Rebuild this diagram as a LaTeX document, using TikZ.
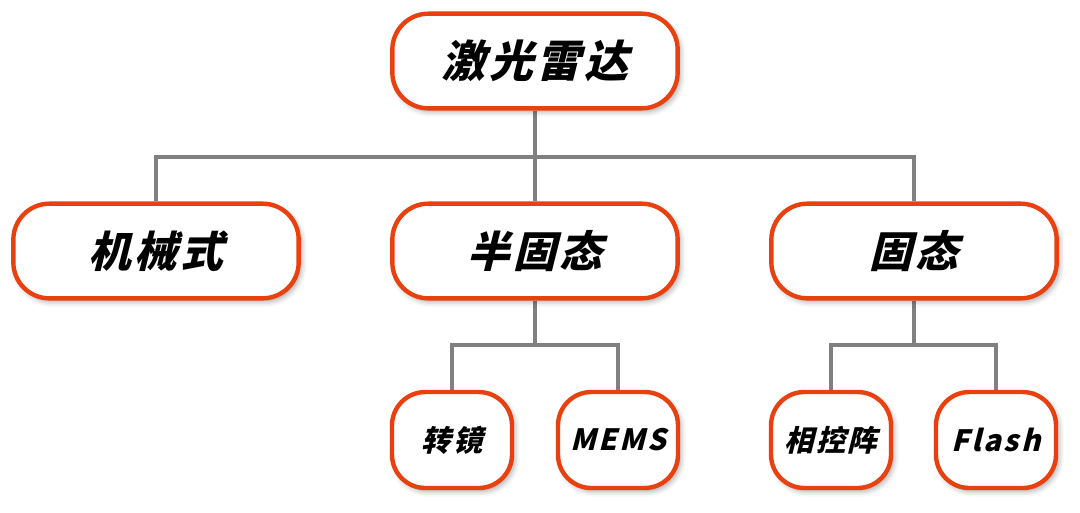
\documentclass[tikz,border=0pt]{standalone}
\usepackage{fontspec}
\usetikzlibrary{shadows.blur,backgrounds}
\newfontfamily\cjk[UprightFont={* Black},FakeSlant=0.25,LetterSpace=8]{Noto Sans CJK SC}
\definecolor{lidarred}{HTML}{E8400E}
\definecolor{lidargray}{HTML}{808080}
\begin{document}
\begin{tikzpicture}[x=0.75pt,y=-0.75pt,
    box/.style={draw=lidarred,line width=3.3pt,fill=white,rounded corners=27pt,
      minimum width=214pt,minimum height=71pt,font=\cjk\fontsize{32}{32}\selectfont,
      blur shadow={shadow xshift=2pt,shadow yshift=-2.5pt,shadow blur radius=4pt,shadow opacity=35}},
    smallbox/.style={box,rounded corners=25pt,minimum width=90pt,minimum height=72pt,
      font=\cjk\fontsize{22}{22}\selectfont},
    conn/.style={draw=lidargray,line width=3pt}]
   \useasboundingbox (0,0) rectangle (1080,512);
   % top and middle row
   \node[box,font=\cjk\fontsize{33}{33}\selectfont] (lidar) at (535,61) {激光雷达};
   \node[box] (mech) at (156,251) {机械式};
   \node[box] (semi) at (535,251) {半固态};
   \node[box] (solid) at (914,251) {固态};
   % bottom row
   \node[smallbox] (mirror) at (452,440) {转镜};
   \node[smallbox] (mems) at (618,440) {MEMS};
   \node[smallbox] (opa) at (831,440) {相控阵};
   \node[smallbox] (flash) at (996,440) {Flash};
   \coordinate (busA) at (535,157);
   \coordinate (busB) at (535,345);
   \coordinate (busC) at (914,345);
   \begin{scope}[on background layer]
     \draw[conn] (lidar.south) -- (semi.north);
     \draw[conn] (mech.north) |- (busA) -| (solid.north);
     \draw[conn] (semi.south) -- (busB);
     \draw[conn] (mirror.north) |- (busB) -| (mems.north);
     \draw[conn] (solid.south) -- (busC);
     \draw[conn] (opa.north) |- (busC) -| (flash.north);
   \end{scope}
\end{tikzpicture}
\end{document}
